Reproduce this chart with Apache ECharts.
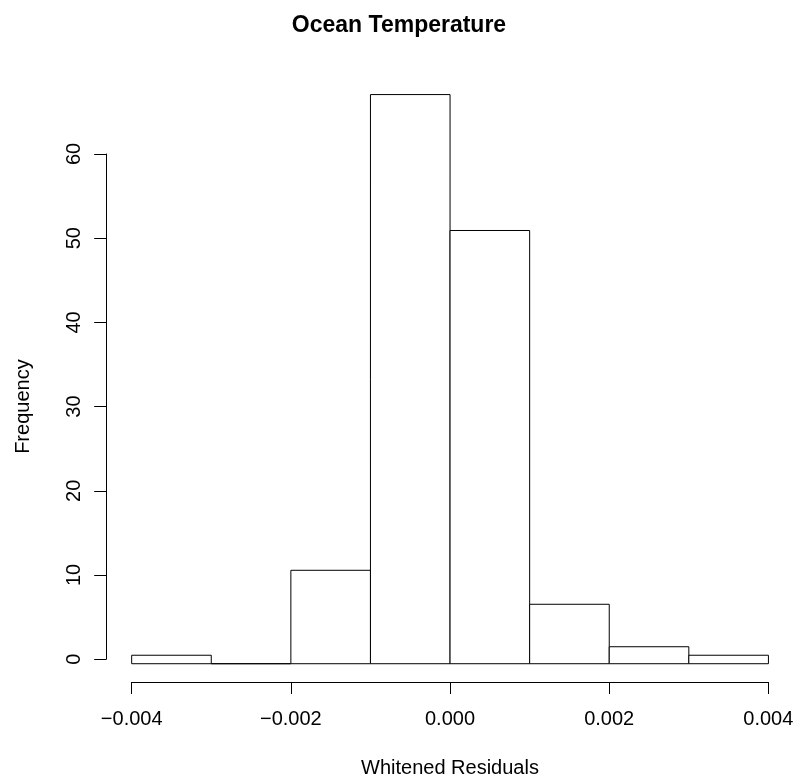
<!DOCTYPE html>
<html>
<head>
<meta charset="utf-8">
<script src="https://cdn.jsdelivr.net/npm/echarts@6/dist/echarts.min.js"></script>
<style>html,body{margin:0;padding:0;background:#fff;}#chart{width:798px;height:783px;}</style>
</head>
<body>
<div id="chart"></div>
<script>
// ---- data ----
const chartTitle = 'Ocean Temperature';
const xTitle = 'Whitened Residuals';
const yTitle = 'Frequency';
const binStarts = [-0.004, -0.003, -0.002, -0.001, 0.000, 0.001, 0.002, 0.003];
const binEnds   = [-0.003, -0.002, -0.001, 0.000, 0.001, 0.002, 0.003, 0.004];
const counts    = [1, 0, 11, 67, 51, 7, 2, 1];
const xTickMin = -0.004, xTickMax = 0.004, xTickStep = 0.002;
const yTickMin = 0, yTickMax = 60, yTickStep = 10;

// ---- layout ----
const FONT = "'Liberation Sans', Arial, Helvetica, sans-serif";
const W = 798, H = 783;
// R extends the plotting region by 4% on each side
const xSpan = binEnds[binEnds.length - 1] - binStarts[0];
const xMinExt = binStarts[0] - 0.04 * xSpan, xMaxExt = binEnds[binEnds.length - 1] + 0.04 * xSpan;
const yMaxData = Math.max(...counts);
const yMinExt = 0 - 0.04 * yMaxData, yMaxExt = yMaxData + 0.04 * yMaxData;

const plotL = 106.2, plotR = 793.9, plotT = 71.8, plotB = 686.5;
const fmtX = v => { const s = Math.abs(v).toFixed(3); return (v < -1e-12 ? '\u2212' : '') + s; };

const chart = echarts.init(document.getElementById('chart'), null, {renderer: 'canvas'});
const rows = binStarts.map((s, i) => [s, binEnds[i], counts[i]]);

chart.setOption({
  animation: false,
  backgroundColor: '#fff',
  title: {
    text: chartTitle,
    left: 'center',
    top: 9,
    textStyle: {fontFamily: FONT, fontSize: 23, fontWeight: 'bold', color: '#000'}
  },
  grid: [
    {left: plotL, right: W - plotR, top: plotT, bottom: H - plotB},
    {left: 131.7, right: 29.7, top: 154, bottom: 119.3}
  ],
  xAxis: [
    {gridIndex: 0, type: 'value', min: xMinExt, max: xMaxExt, show: false},
    {gridIndex: 1, type: 'value', min: xTickMin, max: xTickMax, interval: xTickStep,
     position: 'bottom', offset: 22.8,
     axisLine: {show: true, onZero: false, lineStyle: {color: '#000', width: 1}},
     axisTick: {show: true, length: 12, lineStyle: {color: '#000', width: 1}},
     axisLabel: {fontFamily: FONT, fontSize: 20, color: '#000', margin: 27, formatter: fmtX},
     splitLine: {show: false},
     name: xTitle, nameLocation: 'middle', nameGap: 76,
     nameTextStyle: {fontFamily: FONT, fontSize: 20, color: '#000'}}
  ],
  yAxis: [
    {gridIndex: 0, type: 'value', min: yMinExt, max: yMaxExt, show: false},
    {gridIndex: 1, type: 'value', min: yTickMin, max: yTickMax, interval: yTickStep,
     position: 'left', offset: 25.5,
     axisLine: {show: true, onZero: false, lineStyle: {color: '#000', width: 1}},
     axisTick: {show: true, length: 12, lineStyle: {color: '#000', width: 1}},
     axisLabel: {fontFamily: FONT, fontSize: 20, color: '#000', margin: 22, rotate: 90},
     splitLine: {show: false},
     name: yTitle, nameLocation: 'middle', nameGap: 73,
     nameTextStyle: {fontFamily: FONT, fontSize: 20, color: '#000'}}
  ],
  series: [{
    type: 'custom',
    xAxisIndex: 0, yAxisIndex: 0,
    clip: false,
    data: rows,
    renderItem: function (params, api) {
      const p0 = api.coord([api.value(0), 0]);
      const p1 = api.coord([api.value(1), api.value(2)]);
      return {
        type: 'rect',
        shape: {x: p0[0], y: p1[1], width: p1[0] - p0[0], height: p0[1] - p1[1]},
        style: {fill: '#fff', stroke: '#000', lineWidth: 1}
      };
    }
  }]
});
</script>
</body>
</html>
